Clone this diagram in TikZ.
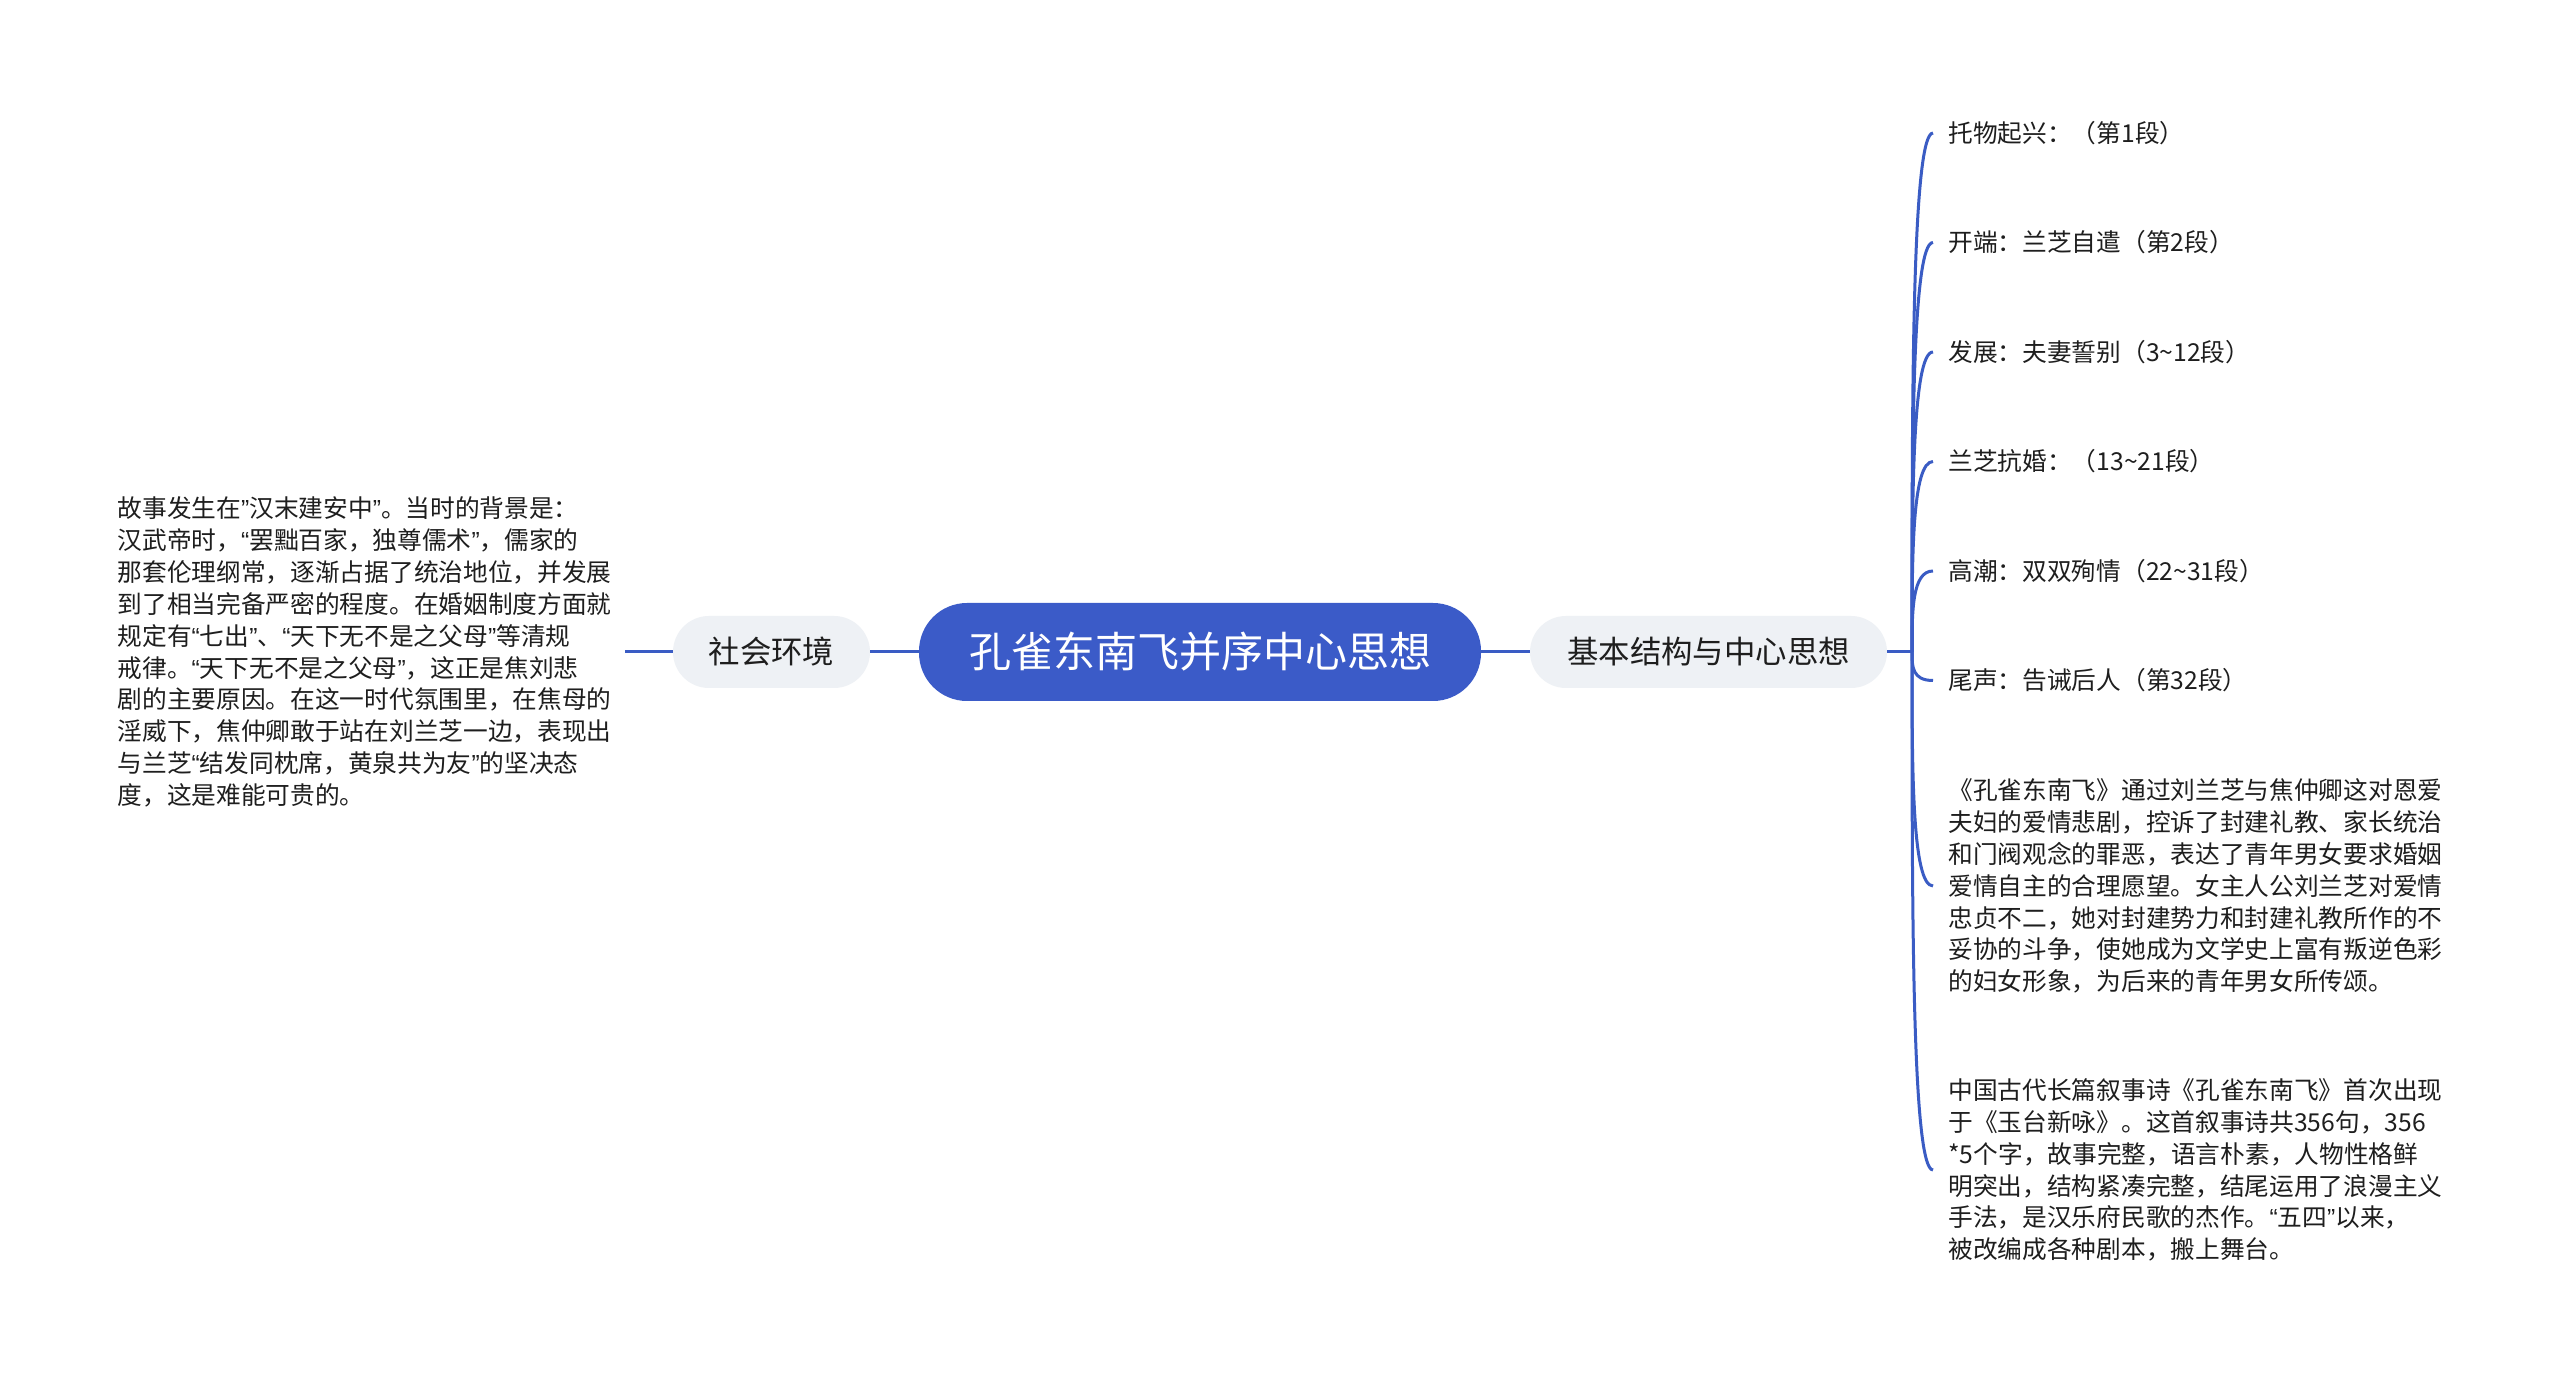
\documentclass[tikz,border=0pt]{standalone}
\usepackage{fontspec}
\setmainfont{Noto Sans CJK SC}
\newfontfamily\qf{Liberation Sans}
\usetikzlibrary{calc}
\definecolor{mainblue}{HTML}{3B5BC8}
\definecolor{linkblue}{HTML}{3A5CC4}
\definecolor{pillgrey}{HTML}{EEF1F5}
\definecolor{ink}{HTML}{1E1E1E}
\newcommand\Lq{{\qf “}}
\newcommand\Rq{{\qf ”}}
\begin{document}
\begin{tikzpicture}[x=0.5pt,y=-0.5pt,
  rootbox/.style={fill=mainblue, text=white, rounded corners=24pt, minimum width=281pt, minimum height=49pt, inner sep=0pt, font=\fontsize{21pt}{25pt}\selectfont},
  subbox/.style={fill=pillgrey, text=ink, rounded corners=18pt, minimum height=36pt, inner sep=0pt, font=\fontsize{15.7pt}{19pt}\selectfont},
  paratext/.style={text=ink, align=left, inner xsep=6.5pt, inner ysep=2pt, font=\fontsize{12.35pt}{15.95pt}\selectfont},
  leaf/.style={anchor=west, text=ink, align=left, inner xsep=7.5pt, inner ysep=2pt, font=\fontsize{12.35pt}{15.95pt}\selectfont},
  conn/.style={draw=linkblue, line width=1.5pt}
]
\fill[white] (0,0) rectangle (2560,1384);
\useasboundingbox (0,0) rectangle (2560,1384);

\node[rootbox] (root) at (1200,652) {孔雀东南飞并序中心思想};
\node[subbox, minimum width=98.5pt] (soc) at (771.5,652) {社会环境};
\node[subbox, minimum width=178.5pt] (base) at (1708.5,652) {基本结构与中心思想};

\node[paratext, anchor=east] (lt) at (625,652) {故事发生在\Rq 汉末建安中\Rq 。当时的背景是：\\
汉武帝时，\Lq 罢黜百家，独尊儒术\Rq ，儒家的\\
那套伦理纲常，逐渐占据了统治地位，并发展\\
到了相当完备严密的程度。在婚姻制度方面就\\
规定有\Lq 七出\Rq 、\Lq 天下无不是之父母\Rq 等清规\\
戒律。\Lq 天下无不是之父母\Rq ，这正是焦刘悲\\
剧的主要原因。在这一时代氛围里，在焦母的\\
淫威下，焦仲卿敢于站在刘兰芝一边，表现出\\
与兰芝\Lq 结发同枕席，黄泉共为友\Rq 的坚决态\\
度，这是难能可贵的。};

\draw[conn] (lt.east) -- (soc.west);
\draw[conn] (soc.east) -- (root.west);
\draw[conn] (root.east) -- (base.west);
\coordinate (j) at (1912,652);
\draw[conn] (base.east) -- (j);

\node[leaf] (l1) at (1933,133) {托物起兴：（第1段）};
\node[leaf] (l2) at (1933,242.5) {开端：兰芝自遣（第2段）};
\node[leaf] (l3) at (1933,352) {发展：夫妻誓别（3\textasciitilde 12段）};
\node[leaf] (l4) at (1933,461.5) {兰芝抗婚：（13\textasciitilde 21段）};
\node[leaf] (l5) at (1933,571) {高潮：双双殉情（22\textasciitilde 31段）};
\node[leaf] (l6) at (1933,680.5) {尾声：告诫后人（第32段）};
\node[leaf] (l7) at (1933,886) {《孔雀东南飞》通过刘兰芝与焦仲卿这对恩爱\\
夫妇的爱情悲剧，控诉了封建礼教、家长统治\\
和门阀观念的罪恶，表达了青年男女要求婚姻\\
爱情自主的合理愿望。女主人公刘兰芝对爱情\\
忠贞不二，她对封建势力和封建礼教所作的不\\
妥协的斗争，使她成为文学史上富有叛逆色彩\\
的妇女形象，为后来的青年男女所传颂。};
\node[leaf] (l8) at (1933,1170) {中国古代长篇叙事诗《孔雀东南飞》首次出现\\
于《玉台新咏》。这首叙事诗共356句，356\\
*5个字，故事完整，语言朴素，人物性格鲜\\
明突出，结构紧凑完整，结尾运用了浪漫主义\\
手法，是汉乐府民歌的杰作。\Lq 五四\Rq 以来，\\
被改编成各种剧本，搬上舞台。};

\foreach \n in {l1,l2,l3,l4,l5,l6,l7,l8}
  \draw[conn] (j) .. controls ($(j)!0.5!(j |- \n.west)$) and (j |- \n.west) .. (\n.west);
\end{tikzpicture}
\end{document}
